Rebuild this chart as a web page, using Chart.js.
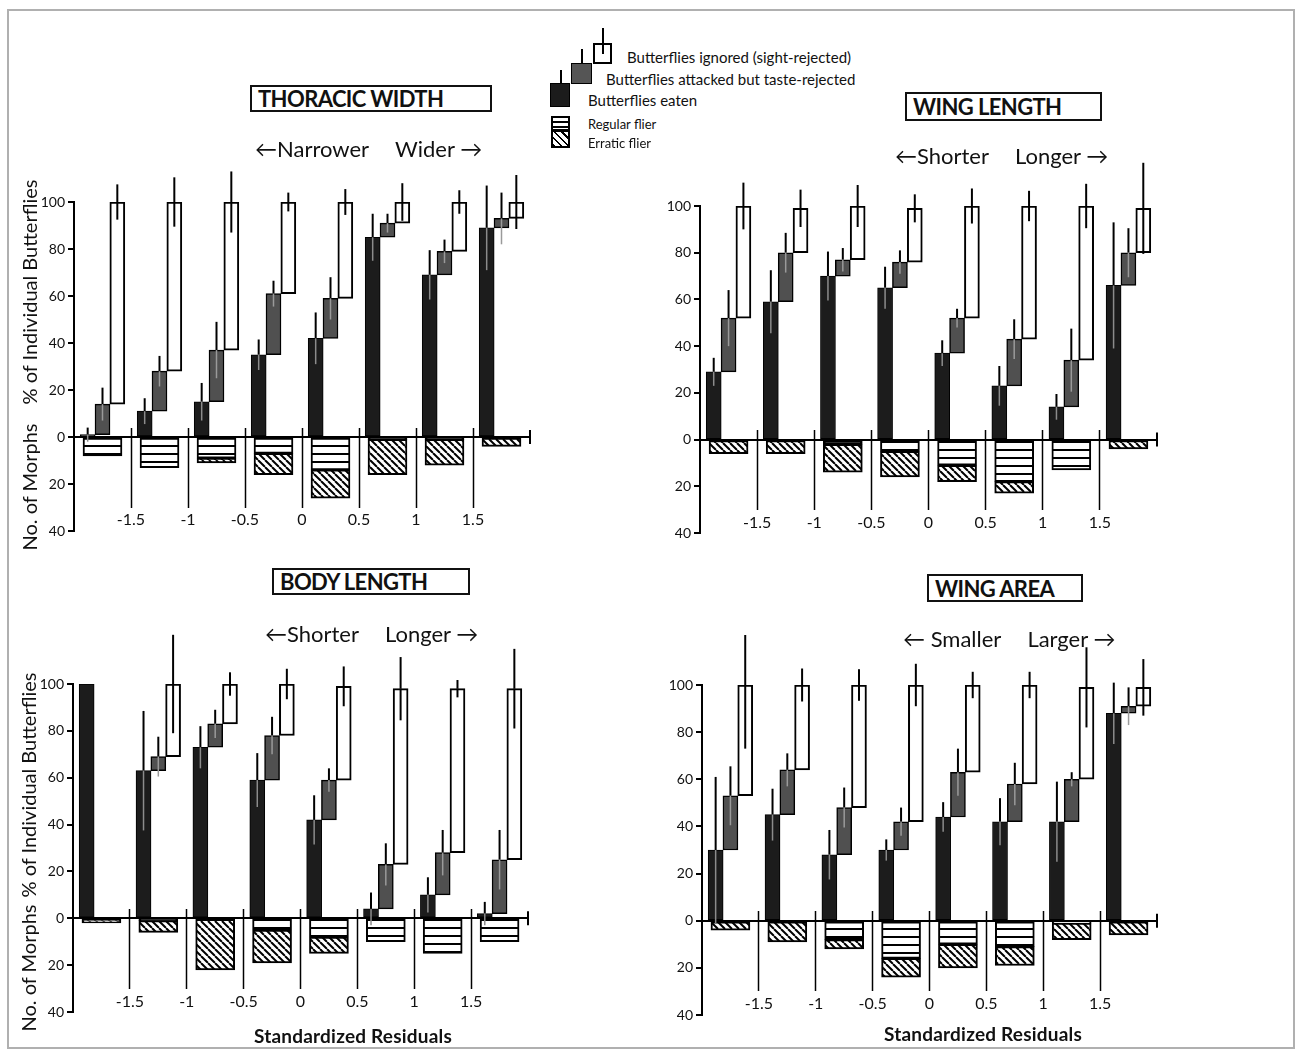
<!DOCTYPE html>
<html>
<head>
<meta charset="utf-8">
<script src="https://cdn.jsdelivr.net/npm/chart.js@4.4.1/dist/chart.umd.min.js"></script>
<style>
  body { margin: 0; background: #fff; width: 1303px; height: 1059px; position: relative; overflow: hidden;
         font-family: Lato, 'Liberation Sans', sans-serif; color: #111; }
  .frame { position: absolute; left: 7px; top: 9px; width: 1288px; height: 1040px; border: 2px solid #b0b0b0; box-sizing: border-box; }
  canvas { position: absolute; }
  .title { position: absolute; box-sizing: border-box; border: 2px solid #111; font-weight: bold; font-size: 22px;
           padding-left: 6px; letter-spacing: -0.6px; display: flex; align-items: center; }
  .dir { position: absolute; font-size: 22px; white-space: nowrap; transform: translateY(-50%); }
  .dir span { margin-left: 26px; }
  .ytitle { position: absolute; white-space: nowrap; font-size: 20px; transform: translate(-50%, -50%) rotate(-90deg); }
  .xtitle { position: absolute; white-space: nowrap; font-size: 19px; font-weight: bold; letter-spacing: 0.2px; transform: translate(-50%, -50%); }
  .lg { position: absolute; box-sizing: border-box; }
  .lgt { position: absolute; font-size: 15px; white-space: nowrap; transform: translateY(-50%); }
</style>
</head>
<body>
<div class="frame"></div>

<canvas id="thoracic"></canvas>
<canvas id="winglen"></canvas>
<canvas id="bodylen"></canvas>
<canvas id="wingarea"></canvas>

<div class="title" style="left:250px;top:85px;width:242px;height:27px">THORACIC WIDTH</div>
<div class="title" style="left:905px;top:92px;width:197px;height:29px">WING LENGTH</div>
<div class="title" style="left:272px;top:568px;width:198px;height:27px">BODY LENGTH</div>
<div class="title" style="left:927px;top:574px;width:156px;height:28px">WING AREA</div>

<div class="dir" style="left:255px;top:148px">&#8592;Narrower<span>Wider &#8594;</span></div>
<div class="dir" style="left:895px;top:155px">&#8592;Shorter<span>Longer &#8594;</span></div>
<div class="dir" style="left:265px;top:633px">&#8592;Shorter<span>Longer &#8594;</span></div>
<div class="dir" style="left:903px;top:638px">&#8592; Smaller<span>Larger &#8594;</span></div>

<div class="ytitle" style="left:29px;top:292px">% of Individual Butterflies</div>
<div class="ytitle" style="left:29px;top:487px">No. of Morphs</div>
<div class="ytitle" style="left:28px;top:785px">% of Individual Butterflies</div>
<div class="ytitle" style="left:28px;top:968px">No. of Morphs</div>

<div class="xtitle" style="left:353px;top:1035px">Standardized Residuals</div>
<div class="xtitle" style="left:983px;top:1033px">Standardized Residuals</div>

<!-- legend -->
<div class="lg" style="left:550px;top:83px;width:20px;height:24px;background:#1c1c1c;border:1px solid #000"></div>
<div class="lg" style="left:560px;top:70px;width:2px;height:14px;background:#000"></div>
<div class="lg" style="left:571px;top:63px;width:21px;height:21px;background:#555;border:1px solid #000"></div>
<div class="lg" style="left:581px;top:49px;width:2px;height:15px;background:#000"></div>
<div class="lg" style="left:593px;top:43px;width:19px;height:21px;background:#fff;border:2px solid #000"></div>
<div class="lg" style="left:602px;top:28px;width:2px;height:26px;background:#000"></div>
<div class="lg" style="left:551px;top:116px;width:19px;height:15px;border:2px solid #000;
     background:repeating-linear-gradient(180deg,#fff 0 3px,#000 3px 5px)"></div>
<div class="lg" style="left:551px;top:130px;width:19px;height:18px;border:2px solid #000;
     background:repeating-linear-gradient(45deg,#000 0 2px,#fff 2px 5px)"></div>
<div class="lgt" style="left:627px;top:57px">Butterflies ignored (sight-rejected)</div>
<div class="lgt" style="left:606px;top:79px">Butterflies attacked but taste-rejected</div>
<div class="lgt" style="left:588px;top:100px">Butterflies eaten</div>
<div class="lgt" style="left:588px;top:124px;font-size:13px">Regular flier</div>
<div class="lgt" style="left:588px;top:143px;font-size:13px">Erratic flier</div>

<script>
// centres of the 8 residual classes (bins of 0.5 SD from -2 to 2)
const residualCenters = [-1.75, -1.25, -0.75, -0.25, 0.25, 0.75, 1.25, 1.75];

// % of butterflies: eaten / attacked but taste-rejected / ignored
const thoracicEaten    = [1, 11, 15, 35, 42, 85, 69, 89];
const thoracicAttacked = [13, 17, 22, 26, 17, 6, 10, 4];
const thoracicIgnored  = [86, 72, 63, 39, 41, 9, 21, 7];
const thoracicEatenErr    = [3, 5.5, 8, 6.5, 11, 10, 10.5, 18];
const thoracicAttackedErr = [7, 6.5, 12, 5.5, 9, 4, 5, 11];
const thoracicIgnoredErr  = [7.5, 10.5, 13, 4, 5.5, 8, 5, 11.5];
const thoracicRegular = [8, 13, 9, 7, 14, 1, 1, 0];
const thoracicErratic = [0, 0, 2, 9, 12, 15, 11, 4];

const wingLenEaten    = [29, 59, 70, 65, 37, 23, 14, 66];
const wingLenAttacked = [23, 21, 7, 11, 15, 20, 20, 14];
const wingLenIgnored  = [48, 19, 23, 23, 48, 57, 66, 19];
const wingLenEatenErr    = [6, 13.5, 10.5, 9, 5.5, 8.5, 5.5, 27];
const wingLenAttackedErr = [12, 8.5, 5, 5, 4, 8.5, 13.5, 10.5];
const wingLenIgnoredErr  = [10, 8, 9, 6, 7.5, 6.5, 9.5, 19.5];
const wingLenRegular = [0, 0, 2, 5, 11, 18, 13, 0];
const wingLenErratic = [6, 6, 12, 11, 7, 5, 0, 4];

const bodyLenEaten    = [100, 63, 73, 59, 42, 4, 10, 2];
const bodyLenAttacked = [0, 6, 10, 19, 17, 19, 18, 23];
const bodyLenIgnored  = [0, 31, 17, 22, 40, 75, 70, 73];
const bodyLenEatenErr    = [0, 25.5, 9, 11.5, 10.5, 7, 7.5, 5];
const bodyLenAttackedErr = [0, 8.5, 6, 8, 5, 9, 9.7, 12.7];
const bodyLenIgnoredErr  = [0, 21, 5, 6.5, 8.5, 13.5, 3.7, 17];
const bodyLenRegular = [0, 1, 0, 5, 8, 10, 15, 10];
const bodyLenErratic = [2, 5, 22, 14, 7, 0, 0, 0];

const wingAreaEaten    = [30, 45, 28, 30, 44, 42, 42, 88];
const wingAreaAttacked = [23, 19, 20, 12, 19, 16, 18, 3];
const wingAreaIgnored  = [47, 36, 52, 58, 37, 42, 39, 8];
const wingAreaEatenErr    = [31, 11, 10.5, 4.5, 6.3, 10, 17, 13];
const wingAreaAttackedErr = [12.5, 7, 8.5, 6, 10, 9, 3, 8];
const wingAreaIgnoredErr  = [27, 7, 6.7, 9, 5.6, 5.6, 17, 12];
const wingAreaRegular = [0, 0, 8, 16, 10, 11, 1, 0];
const wingAreaErratic = [4, 9, 4, 8, 10, 8, 7, 6];

const FONT = "Lato, 'Liberation Sans', sans-serif";

function makeStripes(ctx) {
    const t = document.createElement('canvas');
    t.width = 8; t.height = 8;
    const c = t.getContext('2d');
    c.fillStyle = '#fff'; c.fillRect(0, 0, 8, 8);
    c.fillStyle = '#000'; c.fillRect(0, 5, 8, 2);
    return ctx.createPattern(t, 'repeat');
}

function makeHatch(ctx) {
    const s = 7;
    const t = document.createElement('canvas');
    t.width = s; t.height = s;
    const c = t.getContext('2d');
    c.fillStyle = '#fff'; c.fillRect(0, 0, s, s);
    c.strokeStyle = '#000'; c.lineWidth = 2;
    for (const k of [-s, 0, s]) {
        c.beginPath(); c.moveTo(k, 0); c.lineTo(k + s, s); c.stroke();
    }
    return ctx.createPattern(t, 'repeat');
}

// error bars on top of each bar, plus the little end tick of the zero line
const errorBars = {
    id: 'errorBars',
    afterDatasetsDraw(chart) {
        const { ctx, scales: { y }, chartArea } = chart;
        ctx.save();
        chart.data.datasets.forEach((ds, di) => {
            if (!ds.innerErr) return;
            chart.getDatasetMeta(di).data.forEach((bar, i) => {
                const pt = ds.data[i];
                if (!pt.err) return;
                const t = pt.y[1];
                const yt = y.getPixelForValue(t);
                ctx.beginPath();
                ctx.strokeStyle = '#000'; ctx.lineWidth = 2;
                ctx.moveTo(bar.x, yt); ctx.lineTo(bar.x, y.getPixelForValue(t + pt.err));
                ctx.stroke();
                ctx.beginPath();
                ctx.strokeStyle = ds.innerErr; ctx.lineWidth = ds.innerErr === '#000' ? 2 : 1.5;
                ctx.moveTo(bar.x, yt); ctx.lineTo(bar.x, y.getPixelForValue(t - pt.err));
                ctx.stroke();
            });
        });
        ctx.beginPath();
        ctx.strokeStyle = '#000'; ctx.lineWidth = 2;
        ctx.moveTo(chartArea.right, y.getPixelForValue(3));
        ctx.lineTo(chartArea.right, y.getPixelForValue(-3));
        ctx.stroke();
        ctx.restore();
    }
};

function createPanel(id, box, eaten, attacked, ignored, eatenErr, attackedErr, ignoredErr, regular, erratic) {
    const cv = document.getElementById(id);
    const padTop = 50, padRight = 10, padBottom = 12, yAxisW = 54;
    const w = box.xR - box.x0 + yAxisW + padRight;
    const h = box.yB - box.y100 + padTop + padBottom;
    cv.width = w; cv.height = h;
    cv.style.left = (box.x0 - yAxisW) + 'px';
    cv.style.top = (box.y100 - padTop) + 'px';
    cv.style.width = w + 'px'; cv.style.height = h + 'px';
    const ctx = cv.getContext('2d');

    const cumAttacked = eaten.map((e, i) => e + attacked[i]);
    const top = cumAttacked.map((c, i) => c + ignored[i]);
    const step = 0.13; // bar spacing inside a class, in residual units

    const common = { borderColor: '#000', borderSkipped: false, barThickness: 15, grouped: false };
    const morph = { borderColor: '#000', borderWidth: 2, borderSkipped: false, barThickness: 39, grouped: false };

    const pts = (vals, fn) => residualCenters.map((c, i) => vals[i] ? fn(c, i) : null).filter(p => p);

    new Chart(cv, {
        type: 'bar',
        data: {
            datasets: [
                { ...common, label: 'Butterflies eaten',
                  data: pts(eaten, (c, i) => ({ x: c - step, y: [0, eaten[i]], err: eatenErr[i] })),
                  backgroundColor: '#1c1c1c', borderWidth: 1, innerErr: '#8c8c8c' },
                { ...common, label: 'Butterflies attacked but taste-rejected',
                  data: pts(attacked, (c, i) => ({ x: c, y: [eaten[i], cumAttacked[i]], err: attackedErr[i] })),
                  backgroundColor: '#505050', borderWidth: 1.5, innerErr: '#9a9a9a' },
                { ...common, label: 'Butterflies ignored (sight-rejected)',
                  data: pts(ignored, (c, i) => ({ x: c + step, y: [cumAttacked[i], top[i]], err: ignoredErr[i] })),
                  backgroundColor: '#fff', borderWidth: 2, innerErr: '#000' },
                { ...morph, label: 'Regular flier',
                  data: pts(regular, (c, i) => ({ x: c, y: [-regular[i], 0] })),
                  backgroundColor: makeStripes(ctx) },
                { ...morph, label: 'Erratic flier',
                  data: pts(erratic, (c, i) => ({ x: c, y: [-(regular[i] + erratic[i]), -regular[i]] })),
                  backgroundColor: makeHatch(ctx) }
            ]
        },
        options: {
            responsive: false,
            animation: false,
            layout: { padding: { top: padTop, right: padRight, bottom: padBottom, left: 0 } },
            plugins: { legend: { display: false }, tooltip: { enabled: false } },
            scales: {
                x: {
                    type: 'linear', min: -2, max: 2, offset: false,
                    position: { y: 4 },
                    border: { display: false },
                    grid: {
                        offset: false, drawOnChartArea: false, drawTicks: true, tickLength: 80, tickWidth: 1.5,
                        tickColor: c => (c.tick && Math.abs(c.tick.value) < 1.9) ? '#000' : 'rgba(0,0,0,0)'
                    },
                    ticks: {
                        stepSize: 0.5, padding: 3, color: '#111',
                        font: { family: FONT, size: 16 },
                        callback: v => Math.abs(v) > 1.9 ? '' : String(v)
                    }
                },
                y: {
                    min: -40, max: 100,
                    afterFit: scale => { scale.width = yAxisW; },
                    border: { display: true, color: '#000', width: 2 },
                    grid: {
                        color: c => (c.tick && c.tick.value === 0) ? '#000' : 'rgba(0,0,0,0)',
                        lineWidth: 2, drawTicks: true, tickLength: 6, tickColor: '#000', tickWidth: 2
                    },
                    ticks: {
                        stepSize: 20, padding: 3, color: '#111',
                        font: { family: FONT, size: 14 },
                        callback: v => String(Math.abs(v))
                    }
                }
            }
        },
        plugins: [errorBars]
    });
}

document.addEventListener('DOMContentLoaded', function () {
    createPanel('thoracic', { x0: 74, xR: 530, y100: 202, yB: 531 },
        thoracicEaten, thoracicAttacked, thoracicIgnored,
        thoracicEatenErr, thoracicAttackedErr, thoracicIgnoredErr, thoracicRegular, thoracicErratic);
    createPanel('winglen', { x0: 700, xR: 1157, y100: 206, yB: 533 },
        wingLenEaten, wingLenAttacked, wingLenIgnored,
        wingLenEatenErr, wingLenAttackedErr, wingLenIgnoredErr, wingLenRegular, wingLenErratic);
    createPanel('bodylen', { x0: 73, xR: 528, y100: 684, yB: 1012 },
        bodyLenEaten, bodyLenAttacked, bodyLenIgnored,
        bodyLenEatenErr, bodyLenAttackedErr, bodyLenIgnoredErr, bodyLenRegular, bodyLenErratic);
    createPanel('wingarea', { x0: 702, xR: 1157, y100: 685, yB: 1015 },
        wingAreaEaten, wingAreaAttacked, wingAreaIgnored,
        wingAreaEatenErr, wingAreaAttackedErr, wingAreaIgnoredErr, wingAreaRegular, wingAreaErratic);
});
</script>
</body>
</html>
